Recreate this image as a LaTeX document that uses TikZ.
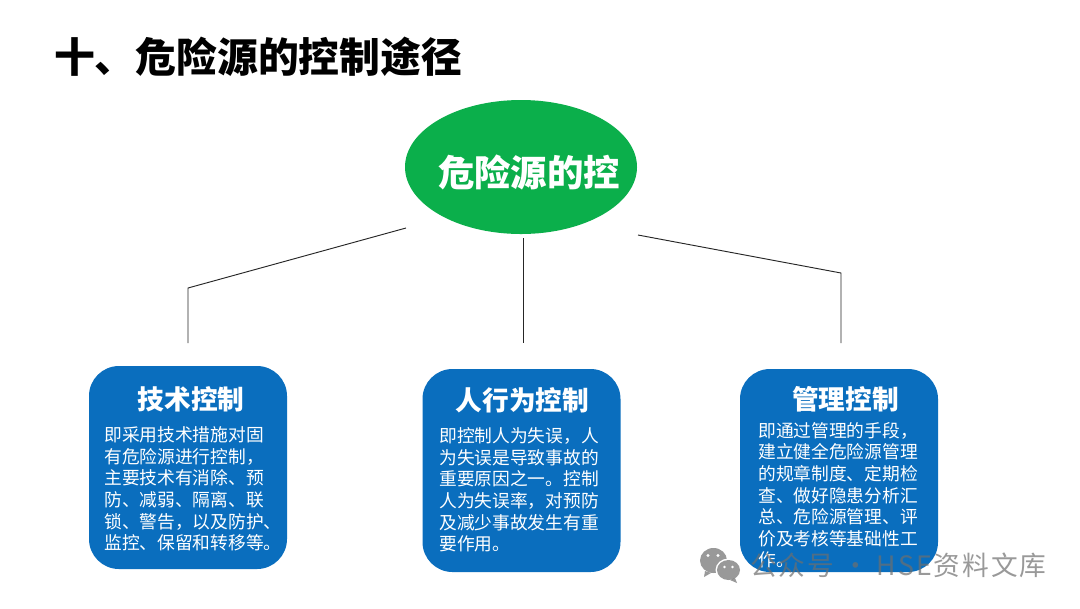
\documentclass[tikz,border=0pt]{standalone}
\usepackage{fontspec}
\usetikzlibrary{shapes.geometric}
\setmainfont{Noto Sans CJK SC}
\newfontfamily\cjkwide[LetterSpace=7.5]{Noto Sans CJK SC}
\definecolor{boxblue}{HTML}{0A6EBE}
\definecolor{ovalgreen}{HTML}{0BAF4B}
\definecolor{markgray}{HTML}{6E6E6E}
\tikzset{
  px/.style={x=0.75pt,y=-0.75pt},
  titletext/.style={anchor=center,inner sep=0,font=\fontsize{30.6pt}{34pt}\bfseries,text=black},
  ovaltext/.style={anchor=center,inner sep=0,font=\fontsize{27.3pt}{32pt}\bfseries,text=white},
  cardbox/.style={draw=none,fill=boxblue,rounded corners=22.5pt,minimum width=148.5pt,minimum height=152.25pt,inner sep=0,anchor=center},
  cardhead/.style={anchor=center,inner sep=0,font=\fontsize{20pt}{24pt}\bfseries,text=white},
  cardbody/.style={anchor=north west,inner sep=0,align=left,text=white,font=\fontsize{13.3pt}{16.2pt}\selectfont},
  linkline/.style={draw=black!85,line width=0.7pt},
  markfill/.style={fill=markgray,fill opacity=0.7},
}
\begin{document}
\begin{tikzpicture}[px]
\useasboundingbox[fill=white] (0,0) rectangle (1080,608);
\node[titletext] (title) at (258,57) {十、危险源的控制途径};
\node[draw=none,fill=ovalgreen,ellipse,minimum width=174pt,minimum height=100.5pt,inner sep=0] (oval) at (521,167) {};
\node[ovaltext] (ovallabel) at (529,172) {危险源的控};
\node[cardbox] (cardA) at (188,467.5) {};
\node[cardbox] (cardB) at (521.5,470.5) {};
\node[cardbox] (cardC) at (839,470.5) {};
\node[cardhead] (headA) at (191,399) {技术控制};
\node[cardhead] (headB) at (522.5,400) {人行为控制};
\node[cardhead] (headC) at (845.5,399) {管理控制};
\node[cardbody] (bodyA) at (104,426.5) {即采用技术措施对固\\有危险源进行控制，\\主要技术有消除、预\\防、减弱、隔离、联\\锁、警告，以及防护、\\监控、保留和转移等。};
\node[cardbody] (bodyB) at (439,427.5) {即控制人为失误，人\\为失误是导致事故的\\重要原因之一。控制\\人为失误率，对预防\\及减少事故发生有重\\要作用。};
\node[cardbody] (bodyC) at (758,422) {即通过管理的手段，\\建立健全危险源管理\\的规章制度、定期检\\查、做好隐患分析汇\\总、危险源管理、评\\价及考核等基础性工\\作。};
\coordinate (a0) at (406,228);
\coordinate (a1) at (188,288);
\coordinate (a2) at (188,343);
\coordinate (b0) at (523,238);
\coordinate (b1) at (523,343);
\coordinate (c0) at (638,235);
\coordinate (c1) at (841,273);
\coordinate (c2) at (841,343);
\draw[linkline] (a0) -- (a1) -- (a2);
\draw[linkline] (b0) -- (b1);
\draw[linkline] (c0) -- (c1) -- (c2);
% watermark
\fill[markfill] (713.5,560.5) ellipse [x radius=13.5,y radius=12.5];
\fill[markfill] (705,571) -- (704,577) -- (711,573) -- cycle;
\fill[white] (728.5,570) ellipse [x radius=13,y radius=11.5];
\fill[markfill] (728.5,570) ellipse [x radius=11.5,y radius=10];
\fill[markfill] (735,578) -- (737,583) -- (730,580) -- cycle;
\fill[white] (708,555.5) circle [radius=1.7];
\fill[white] (718,555.5) circle [radius=1.7];
\fill[white] (724.5,567) circle [radius=1.4];
\fill[white] (732.5,567) circle [radius=1.4];
\node[anchor=west,inner sep=0,text=markgray,text opacity=0.7,font=\cjkwide\fontsize{20pt}{24pt}\selectfont] (mark) at (750,565) {公众号 · HSE资料文库};
\end{tikzpicture}
\end{document}
